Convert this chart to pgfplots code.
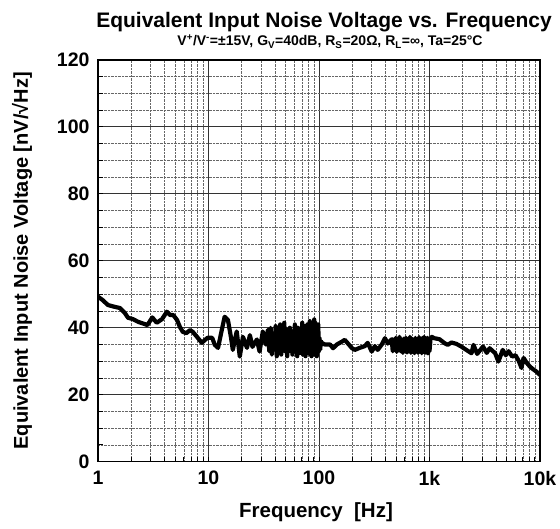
\documentclass[border=0pt]{standalone}
\usepackage{pgfplots}
\pgfplotsset{compat=1.18}
\usepackage{fontspec}
\setmainfont{Liberation Sans}
\begin{document}
\begin{tikzpicture}
\path[use as bounding box] (-98pt,-67.3pt) rectangle (462pt,461.7pt);
\begin{axis}[
  name=ax,
  at={(0pt,0pt)}, anchor=south west,
  scale only axis, width=442pt, height=401.7pt,
  xmode=log, log basis x=10,
  xmin=1, xmax=10000, ymin=0, ymax=120,
  xtick={1,10,100,1000,10000},
  xticklabels={1,10,100,1k,10k},
  minor xtick={2,3,4,5,6,7,8,9,20,30,40,50,60,70,80,90,200,300,400,500,600,700,800,900,2000,3000,4000,5000,6000,7000,8000,9000},
  ytick={0,20,40,60,80,100,120},
  minor ytick={5,10,15,25,30,35,45,50,55,65,70,75,85,90,95,105,110,115},
  grid=both,
  major grid style={black!80, line width=0.9pt},
  minor grid style={black!60, densely dotted, line width=0.7pt},
  axis line style={black, line width=1.1pt},
  tick align=inside, xtick pos=bottom, ytick pos=left,
  major tick length=5pt, minor tick length=5pt,
  tick style={black, line width=1pt},
  /pgf/number format/assume math mode=true,
  xticklabel style={font=\bfseries\fontsize{19.5}{19.5}\selectfont, yshift=-6pt},
  yticklabel style={font=\bfseries\fontsize{19.5}{19.5}\selectfont, xshift=-5pt},
]
\addplot[black, line width=4.2pt, line join=round, line cap=round] coordinates {
(1,49.3) (1.1,48.3) (1.23,46.8) (1.4,46.3) (1.58,45.9) (1.75,44.4) (1.87,43.0)
(2.07,42.6) (2.3,41.8) (2.65,41.1) (2.8,40.8) (3.1,43.1) (3.4,41.5) (3.8,42.6)
(4.2,44.8) (4.5,43.8) (4.8,43.8) (5.2,42.3) (5.5,40.3) (5.85,38.8) (6.3,38.4)
(6.8,39.3) (7.2,38.8) (8,37.0) (8.7,35.5) (9.3,36.4) (9.8,37.0) (10.8,37.0)
(11.4,34.9) (12.2,34.0) (13.2,39.4) (14,43.3) (15,42.3) (16,37.0) (16.6,33.4)
(18,38.9) (19.2,31.4) (20.5,37.3) (22.3,34.0) (23.7,37.8) (25,34.3) (27.4,36.5)
(29,32.9) (31,38.9) (33,35) (34.5,39.4)
(35.5,33) (36.5,40) (37.5,32) (38.5,38) (39.5,33.5) (40.5,40.5) (41.5,31.5) (42.5,38)
(43.5,34) (44.5,41) (45.5,32) (46.5,39) (47.5,34.5) (48.5,41.5) (49.5,33) (50.5,39.5)
(51.5,31.5) (52.5,37.5) (53.5,34) (54.5,40) (55.5,33) (56.5,38.5) (57.5,32) (58.5,39)
(59.5,34) (60.5,41) (61.5,33) (62.5,38) (63.5,31.5) (64.5,40) (65.5,34) (66.5,39.5)
(67.5,32.5) (68.5,38.5) (69.5,33) (70.5,41.5) (71.5,32) (72.5,39) (73.5,34) (74.5,40.5)
(75.5,31.5) (76.5,38) (77.5,33.5) (78.5,41) (79.5,32.5) (80.5,39.5) (81.5,34) (82.5,42)
(83.5,32) (84.5,39) (85.5,31.5) (86.5,40.5) (87.5,33) (88.5,38.5) (89.5,32) (90.5,42.5)
(91.5,33) (92.5,41.5) (93.5,32) (94.5,40) (95.5,31.5) (96.5,39) (97.5,33) (98.5,41)
(99.5,33) (101,37) (102.5,33.5) (104,36)
(106,35.5) (113,35) (126,35) (134,33.9) (145,35) (162,35.9) (171,36.4) (183,35.3)
(199,33.9) (211,33.4) (233,34) (259,34.5) (276,35.5) (300,32.9) (320,34.5) (340,33.4)
(370,35) (395,36.9) (420,35.3) (455,36.6)
(465,33) (475,36.5) (485,33.5) (495,37) (505,32.8) (515,36) (525,33.5) (535,37.3)
(548,33) (561,36.5) (574,32.5) (587,36.8) (600,33.5) (613,37) (626,32.6) (639,36.5)
(652,33) (665,37.3) (678,32.5) (691,36.8) (704,33) (717,36.5) (730,32.4) (745,37)
(760,33) (775,36.6) (790,32.5) (805,37.2) (820,33) (835,36.5) (850,32.4) (865,37)
(880,33) (895,37.3) (910,32.5) (925,36.8) (940,33) (955,37) (970,32.4) (985,36.8)
(1000,33) (1020,36.5) (1050,37.3)
(1100,36.9) (1230,36.6) (1370,35.4) (1460,34.9) (1580,35.6) (1750,35.2) (1940,34.4)
(2150,33.4) (2400,32.4) (2500,34.9) (2700,32.2) (3050,34.4) (3300,32.5) (3500,33.9)
(3930,32.4) (4200,29.9) (4600,33.4) (4900,31.8) (5200,33.0) (5600,31.4) (6000,31.8)
(6400,30.2) (6800,28) (7100,31) (7600,29.5) (8100,28.4) (8600,27.7) (9300,26.9) (10000,25.9)
};
\end{axis}
\node[anchor=base, font=\bfseries\fontsize{21}{21}\selectfont] at ([xshift=5pt,yshift=32pt]ax.north) {Equivalent Input Noise Voltage vs. Frequency};
\node[anchor=base, font=\bfseries\fontsize{14}{14}\selectfont] at ([xshift=11pt,yshift=14pt]ax.north) {V\textsuperscript{+}/V\textsuperscript{-}=±15V, G\textsubscript{V}=40dB, R\textsubscript{S}=20Ω, R\textsubscript{L}=∞, Ta=25°C};
\node[anchor=base, font=\bfseries\fontsize{20.5}{20.5}\selectfont] at ([xshift=-3pt,yshift=-56pt]ax.south) {Frequency\ \ [Hz]};
\node[anchor=base, rotate=90, font=\bfseries\fontsize{20}{20}\selectfont] at ([xshift=-70pt]ax.west) {Equivalent Input Noise Voltage [nV/√Hz]};
\end{tikzpicture}
\end{document}
